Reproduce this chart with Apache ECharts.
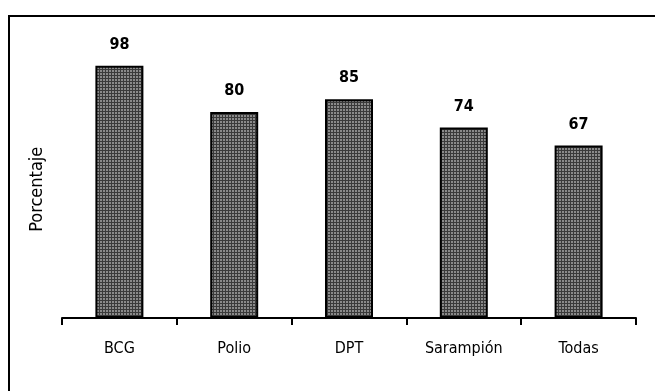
<!DOCTYPE html>
<html><head><meta charset="utf-8">
<script src="https://cdn.jsdelivr.net/npm/echarts@6/dist/echarts.min.js"></script>
<style>html,body{margin:0;padding:0;background:#fff}#c{width:655px;height:391px}</style>
</head><body><div id="c"></div>
<script>
const categories = ['BCG', 'Polio', 'DPT', 'Sarampión', 'Todas'];
const values = [98, 80, 85, 74, 67];
const yAxisName = 'Porcentaje';

// grid-like pattern fill
const pc = document.createElement('canvas');
pc.width = 3; pc.height = 3;
const pctx = pc.getContext('2d');
pctx.fillStyle = '#8a8a8a'; pctx.fillRect(0,0,3,3);
pctx.fillStyle = '#3a3a3a'; pctx.fillRect(0,0,3,1); pctx.fillRect(0,0,1,3);

const font = '"DejaVu Sans Condensed", "Liberation Sans Narrow", "Arial Narrow", sans-serif';
const chart = echarts.init(document.getElementById('c'));
chart.setOption({
  animation: false,
  graphic: [{type:'rect', shape:{x:9,y:16,width:700,height:420}, style:{fill:'none', stroke:'#000', lineWidth:2}}],
  grid: {left: 62, right: 19, top: 60.5, bottom: 73},
  xAxis: {
    type: 'category', data: categories,
    axisLine: {lineStyle: {color: '#000', width: 2}},
    axisTick: {show: true, inside: false, length: 7, lineStyle: {color: '#000', width: 2}},
    axisLabel: {color: '#000', fontSize: 16, fontFamily: font, margin: 23}
  },
  yAxis: {
    type: 'value', min: 0, max: 100,
    name: yAxisName, nameLocation: 'middle', nameGap: 16,
    nameTextStyle: {color: '#000', fontSize: 18, fontFamily: font},
    axisLine: {show: false}, axisTick: {show: false}, axisLabel: {show: false}, splitLine: {show: false}
  },
  series: [{
    type: 'bar', data: values, barWidth: 48,
    itemStyle: {color: {image: pc, repeat: 'repeat'}, borderColor: '#000', borderWidth: 2},
    label: {show: true, position: 'top', distance: 13, color: '#000', fontSize: 16, fontWeight: 'bold', fontFamily: font}
  }]
});
</script></body></html>
